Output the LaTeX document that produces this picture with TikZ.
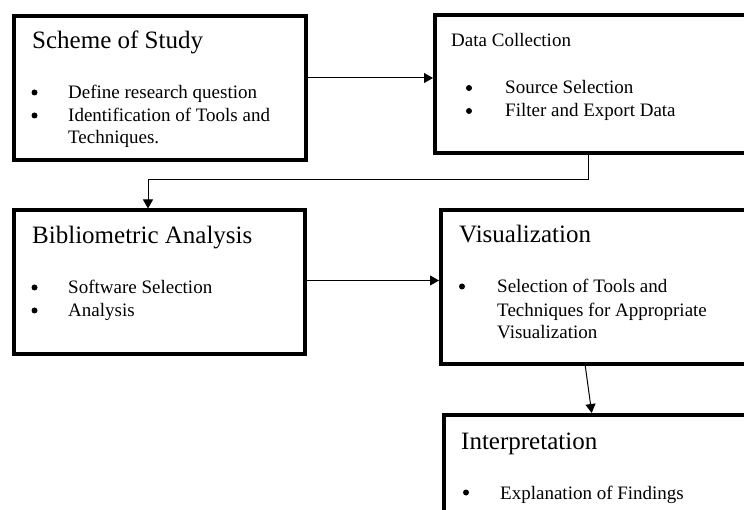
\documentclass[tikz,border=0pt]{standalone}
\usepackage{fontspec}
\setmainfont{Liberation Serif}
\usetikzlibrary{arrows.meta}
\begin{document}
\begin{tikzpicture}[x=1pt,y=-1pt,
  box/.style={draw, line width=4pt, inner sep=0pt, outer sep=0pt, anchor=north west},
  ttl/.style={font=\fontsize{25}{30}\selectfont, anchor=base west, inner sep=0pt},
  txt/.style={font=\fontsize{19}{22}\selectfont, anchor=base west, inner sep=0pt},
  bul/.style={circle, fill=black, inner sep=0pt, minimum size=6pt},
  conn/.style={line width=1pt},
  arr/.style={conn, -{Triangle[length=9pt,width=10pt]}, shorten >=2pt}]
\useasboundingbox (0,0) rectangle (744,510);
\clip (0,0) rectangle (744,510);
% boxes
\node[box, minimum width=292pt, minimum height=144.5pt] (b1) at (14,16) {};
\node[box, minimum width=400pt, minimum height=137.5pt] (b2) at (435,15.5) {};
\node[box, minimum width=290.5pt, minimum height=143.5pt] (b3) at (14,210.5) {};
\node[box, minimum width=400pt, minimum height=153.5pt] (b4) at (441,210.5) {};
\node[box, minimum width=400pt, minimum height=200pt] (b5) at (444,415) {};
% texts box 1
\node[ttl] (t1) at (32,49) {Scheme of Study};
\node[bul] (d1a) at (34.5,92.5) {};
\node[txt] (l1a) at (68,99) {Define research question};
\node[bul] (d1b) at (34.5,115.5) {};
\node[txt] (l1b) at (68,122) {Identification of Tools and};
\node[txt] (l1c) at (68,144) {Techniques.};
% box 2
\node[txt] (t2) at (451,47) {Data Collection};
\node[bul] (d2a) at (469,88) {};
\node[txt] (l2a) at (505,94) {Source Selection};
\node[bul] (d2b) at (469,111) {};
\node[txt] (l2b) at (505,117) {Filter and Export Data};
% box 3
\node[ttl] (t3) at (32,244) {Bibliometric Analysis};
\node[bul] (d3a) at (34.5,287.5) {};
\node[txt] (l3a) at (68,294) {Software Selection};
\node[bul] (d3b) at (34.5,310.5) {};
\node[txt] (l3b) at (68,317) {Analysis};
% box 4
\node[ttl] (t4) at (459,243) {Visualization};
\node[bul] (d4a) at (462,286.5) {};
\node[txt] (l4a) at (497,293) {Selection of Tools and};
\node[txt] (l4b) at (497,317) {Techniques for Appropriate};
\node[txt] (l4c) at (497,338.5) {Visualization};
% box 5
\node[ttl] (t5) at (461,449) {Interpretation};
\node[bul] (d5a) at (466,492.5) {};
\node[txt] (l5a) at (500,499) {Explanation of Findings};
% connectors
\coordinate (y1) at (0,78);
\draw[arr] (b1.east |- y1) -- (b2.west |- y1);
\coordinate (c2a) at (588,180);
\coordinate (c2b) at (148,180);
\draw[arr] (b2.south -| c2a) -- (c2a) -- (c2b) -- (b3.north -| c2b);
\coordinate (y3) at (0,280.5);
\draw[arr] (b3.east |- y3) -- (b4.west |- y3);
\coordinate (x4a) at (585,0);
\coordinate (x4b) at (592,0);
\draw[arr] (b4.south -| x4a) -- (b5.north -| x4b);
\end{tikzpicture}
\end{document}
